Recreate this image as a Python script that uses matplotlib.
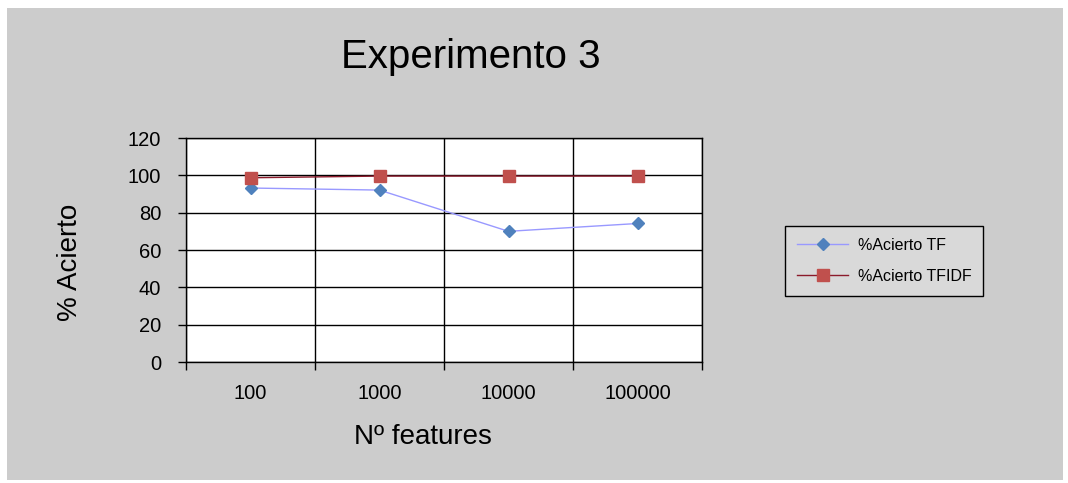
import numpy as np
import matplotlib.pyplot as plt
from matplotlib.patches import Rectangle

plt.rcParams['font.family'] = ['Liberation Sans', 'DejaVu Sans']

features = ['100', '1000', '10000', '100000']
acierto_tf = [93.2, 92.1, 70.0, 74.2]
acierto_tfidf = [98.7, 99.6, 99.6, 99.6]

fig = plt.figure(figsize=(10.68, 4.83), dpi=100)
fig.patch.set_facecolor('white')
# gray chart area
fig.patches.append(Rectangle((7/1068, 3/483), 1056/1068, 472/483,
                             transform=fig.transFigure, facecolor='#cccccc',
                             edgecolor='none', zorder=-1))

ax = fig.add_axes([186/1068, 1 - 362/483, 516/1068, 224/483])
ax.set_facecolor('white')

x = np.arange(len(features)) + 0.5
ax.plot(x, acierto_tf, color='#9999ff', lw=1, marker='D', ms=6,
        mfc='#4f81bd', mec='#4f81bd', label='%Acierto TF', zorder=3)
ax.plot(x, acierto_tfidf, color='#8b1a2b', lw=1, marker='s', ms=8,
        mfc='#c0504d', mec='#c0504d', label='%Acierto TFIDF', zorder=3)

ax.set_xlim(0, len(features))
ax.set_ylim(0, 120)
ax.set_yticks(range(0, 121, 20))
ax.set_xticks(range(0, len(features) + 1))
ax.set_xticklabels([])
ax.set_xticks(x, minor=True)
ax.set_xticklabels(features, minor=True)
ax.tick_params(axis='x', which='minor', length=0, pad=16, labelsize=14.5)
ax.tick_params(axis='x', which='major', length=6, width=1, color='black')
ax.tick_params(axis='y', length=6, width=1, labelsize=14.5, pad=12)
ax.grid(True, which='major', color='black', lw=1)
for s in ax.spines.values():
    s.set_color('black')
    s.set_linewidth(1)

fig.text(423/1068, 1 - 437/483, 'Nº features', fontsize=20,
         ha='center', va='center')
fig.text(70/1068, 1 - 262/483, '% Acierto', fontsize=20, rotation=90,
         ha='center', va='center')
fig.text(471/1068, 1 - 57/483, 'Experimento 3', fontsize=29,
         ha='center', va='center')

leg = fig.legend(loc='upper left', bbox_to_anchor=(785/1068, 1 - 226/483),
                 fontsize=11.5, frameon=True, fancybox=False,
                 edgecolor='black', facecolor='#d9d9d9', framealpha=1,
                 handlelength=3.2, handletextpad=0.6, borderpad=0.75,
                 labelspacing=1.0, borderaxespad=0)
leg.get_frame().set_linewidth(1)

fig.savefig('out.png', dpi=100, facecolor=fig.get_facecolor())
